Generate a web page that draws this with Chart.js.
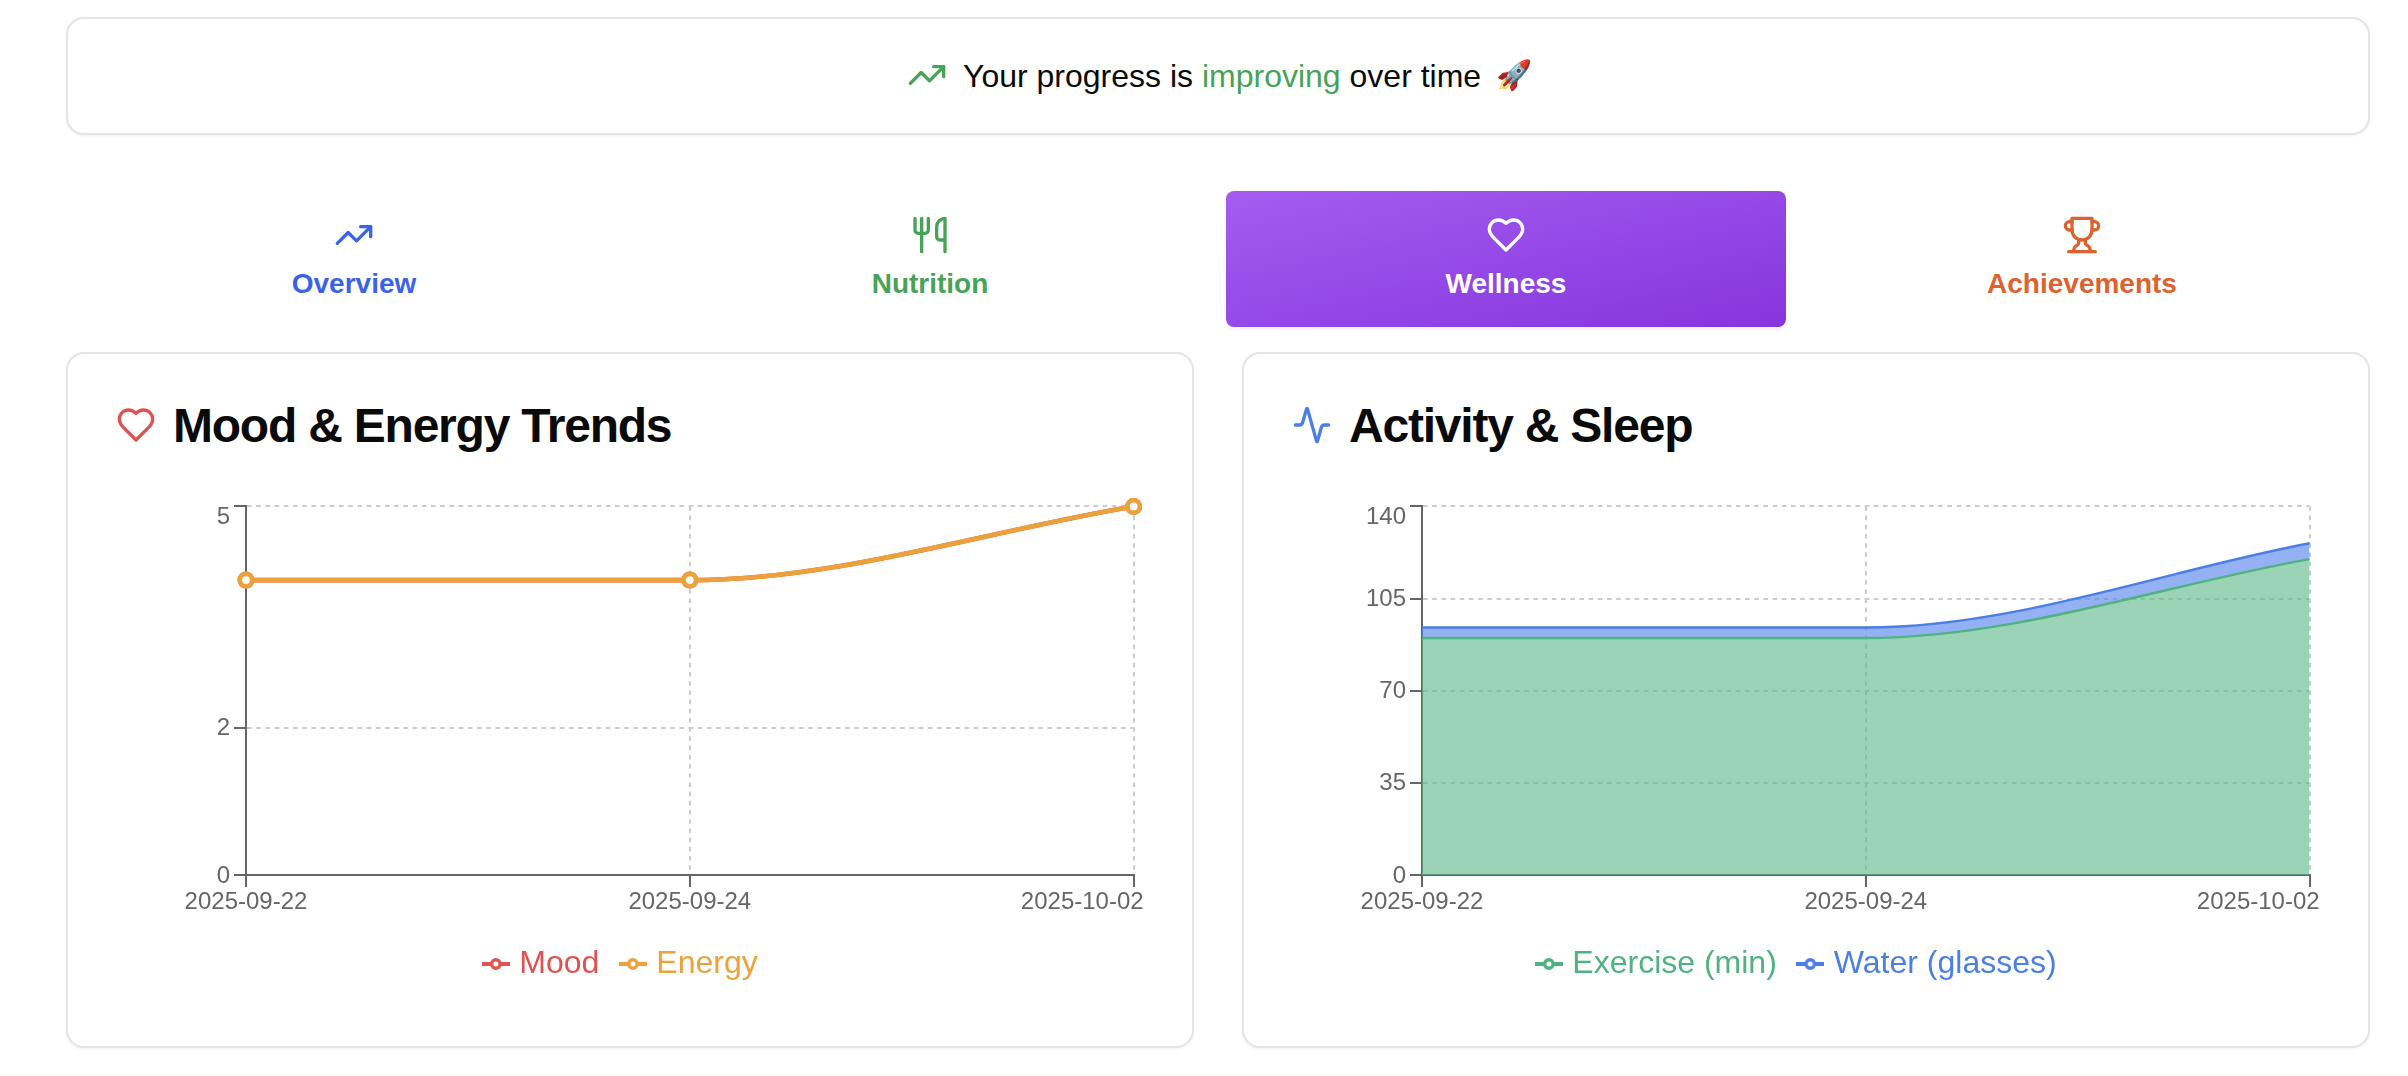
<!DOCTYPE html>
<html>
<head>
<meta charset="utf-8">
<script src="https://cdn.jsdelivr.net/npm/chart.js@4"></script>
<style>
html,body{margin:0;padding:0;background:#fff;width:2408px;height:1076px;overflow:hidden;font-family:"Liberation Sans",Arial,sans-serif;color:#0a0a0a}
.card{position:absolute;box-sizing:border-box;background:#fff;border:2px solid #e5e5e5;border-radius:18px;box-shadow:0 1px 3px rgba(0,0,0,.06)}
.abs{position:absolute}
svg.i{position:absolute;width:40px;height:40px;fill:none;stroke:currentColor;stroke-width:2;stroke-linecap:round;stroke-linejoin:round}
.tablabel{position:absolute;width:560px;text-align:center;font-weight:700;font-size:28px;line-height:32px;top:268px}
.title{position:absolute;font-weight:700;font-size:48px;letter-spacing:-1.22px;line-height:54px;top:398.5px;white-space:nowrap}
canvas{position:absolute}
</style>
</head>
<body>
<div class="card" style="left:66px;top:17px;width:2304px;height:118px"></div>
<svg class="i" viewBox="0 0 24 24" style="left:907px;top:55px;color:#47a356"><path d="M22 7l-8.5 8.5-5-5L2 17"/><path d="M16 7h6v6"/></svg>
<div class="abs" style="left:963px;top:58px;font-size:32px;line-height:36px;white-space:nowrap">Your progress is <span style="color:#47a356">improving</span> over time</div>
<div class="abs" style="left:1496px;top:57px;font-size:29px;line-height:36px;font-family:'Noto Color Emoji','Liberation Sans',sans-serif">🚀</div>

<div class="abs" style="left:1226px;top:191px;width:560px;height:136px;border-radius:8px;background:linear-gradient(to bottom right,#a45cf0,#8635dd);box-shadow:0 2px 4px rgba(0,0,0,.06)"></div>
<svg class="i" viewBox="0 0 24 24" style="left:334px;top:215px;color:#3b63e8"><path d="M22 7l-8.5 8.5-5-5L2 17"/><path d="M16 7h6v6"/></svg>
<div class="tablabel" style="left:74px;color:#3b63e8">Overview</div>
<svg class="i" viewBox="0 0 24 24" style="left:910px;top:215px;color:#47a356"><path d="M3 2v7c0 1.1.9 2 2 2h4a2 2 0 0 0 2-2V2"/><path d="M7 2v20"/><path d="M21 15V2a5 5 0 0 0-5 5v6c0 1.1.9 2 2 2h3Zm0 0v7"/></svg>
<div class="tablabel" style="left:650px;color:#47a356">Nutrition</div>
<svg class="i" viewBox="0 0 24 24" style="left:1486px;top:215px;color:#fff"><path d="M19 14c1.49-1.46 3-3.21 3-5.5A5.5 5.5 0 0 0 16.5 3c-1.76 0-3 .5-4.5 2-1.5-1.5-2.74-2-4.5-2A5.5 5.5 0 0 0 2 8.5c0 2.3 1.5 4.05 3 5.5l7 7Z"/></svg>
<div class="tablabel" style="left:1226px;color:#fff">Wellness</div>
<svg class="i" viewBox="0 0 24 24" style="left:2062px;top:215px;color:#dc622f"><path d="M6 9H4.5a2.5 2.5 0 0 1 0-5H6"/><path d="M18 9h1.5a2.5 2.5 0 0 0 0-5H18"/><path d="M4 22h16"/><path d="M10 14.66V17c0 .55-.47.98-.97 1.21C7.85 18.75 7 20.24 7 22"/><path d="M14 14.66V17c0 .55.47.98.97 1.21C16.15 18.75 17 20.24 17 22"/><path d="M18 2H6v7a6 6 0 0 0 12 0V2Z"/></svg>
<div class="tablabel" style="left:1802px;color:#dc622f">Achievements</div>

<div class="card" style="left:66px;top:352px;width:1128px;height:696px"></div>
<svg class="i" viewBox="0 0 24 24" style="left:116px;top:405px;color:#e05252"><path d="M19 14c1.49-1.46 3-3.21 3-5.5A5.5 5.5 0 0 0 16.5 3c-1.76 0-3 .5-4.5 2-1.5-1.5-2.74-2-4.5-2A5.5 5.5 0 0 0 2 8.5c0 2.3 1.5 4.05 3 5.5l7 7Z"/></svg>
<div class="title" style="left:173px">Mood &amp; Energy Trends</div>
<div class="card" style="left:1242px;top:352px;width:1128px;height:696px"></div>
<svg class="i" viewBox="0 0 24 24" style="left:1292px;top:405px;color:#4a7ee8"><path d="M22 12h-2.48a2 2 0 0 0-1.93 1.46l-2.35 8.36a.25.25 0 0 1-.48 0L9.24 2.18a.25.25 0 0 0-.48 0l-2.35 8.36A2 2 0 0 1 4.49 12H2"/></svg>
<div class="title" style="left:1349px">Activity &amp; Sleep</div>

<canvas id="left" width="1146" height="515" style="left:50px;top:488px"></canvas>
<canvas id="right" width="1146" height="515" style="left:1226px;top:488px"></canvas>

<script>
const dates = ['2025-09-22', '2025-09-24', '2025-10-02'];
const moodValues = [4, 4, 5];
const energyValues = [4, 4, 5];
const exerciseValues = [90, 90, 120];
const waterValues = [4, 4, 6];
const leftYTicks = [0, 2, 5];
const rightYTicks = [0, 35, 70, 105, 140];

const RED = '#e05252', ORANGE = '#eca13b', GREEN = '#4fb381', BLUE = '#4a7ee8';
const TICK = '#666666', GRID = '#cccccc';

function markerCanvas(color) {
  const c = document.createElement('canvas');
  c.width = 28; c.height = 14;
  const g = c.getContext('2d');
  g.strokeStyle = color; g.lineWidth = 4;
  g.beginPath(); g.moveTo(0, 7); g.lineTo(28, 7); g.stroke();
  g.fillStyle = '#fff'; g.lineWidth = 3.4;
  g.beginPath(); g.arc(14, 7, 4.2, 0, Math.PI * 2); g.fill(); g.stroke();
  return c;
}

const labelNudge = {
  id: 'labelNudge',
  beforeDraw(chart) {
    const xs = chart.scales.x, ys = chart.scales.y;
    const xi = xs.getLabelItems();
    const last = xi[xi.length - 1];
    last.options.textAlign = 'right';
    last.options.translation[0] += 10;
    ys.getLabelItems().forEach((it, i, a) => {
      it.options.translation[1] += 1;
      if (i === a.length - 1) it.options.translation[1] += 10;
    });
  }
};

function makeChart(id, datasets, yTicks, yMax) {
  const gridOpts = { color: GRID, lineWidth: 2, tickColor: TICK, tickBorderDash: [], tickWidth: 2, tickLength: 12 };
  const borderOpts = { color: TICK, width: 2, dash: [4.6, 4.6] };
  return new Chart(document.getElementById(id), {
    type: 'line',
    data: { labels: dates, datasets },
    plugins: [labelNudge],
    options: {
      responsive: false,
      animation: false,
      events: [],
      layout: { padding: { top: 15.5, right: 0, bottom: 13, left: 0 } },
      plugins: {
        tooltip: { enabled: false },
        legend: {
          position: 'bottom',
          align: 'center',
          labels: {
            usePointStyle: true,
            pointStyleWidth: 15,
            padding: 26,
            font: { family: '"Liberation Sans"', size: 32 },
            generateLabels(chart) {
              return chart.data.datasets.map((d, i) => ({
                text: d.label,
                fontColor: d.legendColor,
                pointStyle: markerCanvas(d.legendColor),
                strokeStyle: d.legendColor,
                fillStyle: '#fff',
                lineWidth: 0,
                datasetIndex: i
              }));
            }
          }
        }
      },
      scales: {
        x: {
          type: 'category',
          offset: false,
          grid: gridOpts,
          border: borderOpts,
          ticks: { color: TICK, font: { family: '"Liberation Sans"', size: 24 }, padding: 1, autoSkip: false, maxRotation: 0, minRotation: 0 },
          afterFit(s) { s.height = 47; }
        },
        y: {
          min: 0,
          max: yMax,
          stacked: true,
          afterBuildTicks(s) { s.ticks = yTicks.map(v => ({ value: v })); },
          grid: gridOpts,
          border: borderOpts,
          ticks: { color: TICK, font: { family: '"Liberation Sans"', size: 24 }, padding: 4 },
          afterFit(s) { s.width = 196; }
        }
      }
    }
  });
}

makeChart('left', [
  { label: 'Mood', data: moodValues, legendColor: RED, borderColor: RED, backgroundColor: '#fff', borderWidth: 4.6,
    cubicInterpolationMode: 'monotone', pointRadius: 6.2, pointBorderWidth: 4.6, pointBackgroundColor: '#fff', pointBorderColor: RED, clip: false, order: 2, stack: 'a', fill: false },
  { label: 'Energy', data: energyValues, legendColor: ORANGE, borderColor: ORANGE, backgroundColor: '#fff', borderWidth: 4.6,
    cubicInterpolationMode: 'monotone', pointRadius: 6.2, pointBorderWidth: 4.6, pointBackgroundColor: '#fff', pointBorderColor: ORANGE, clip: false, order: 1, stack: 'b', fill: false }
], leftYTicks, 5);

makeChart('right', [
  { label: 'Exercise (min)', data: exerciseValues, legendColor: GREEN, borderColor: GREEN, backgroundColor: 'rgba(87,182,132,0.6)', borderWidth: 2.4,
    cubicInterpolationMode: 'monotone', pointRadius: 0, fill: 'origin' },
  { label: 'Water (glasses)', data: waterValues, legendColor: BLUE, borderColor: BLUE, backgroundColor: 'rgba(77,125,235,0.6)', borderWidth: 2.4,
    cubicInterpolationMode: 'monotone', pointRadius: 0, fill: '-1' }
], rightYTicks, 140);
</script>
</body>
</html>
